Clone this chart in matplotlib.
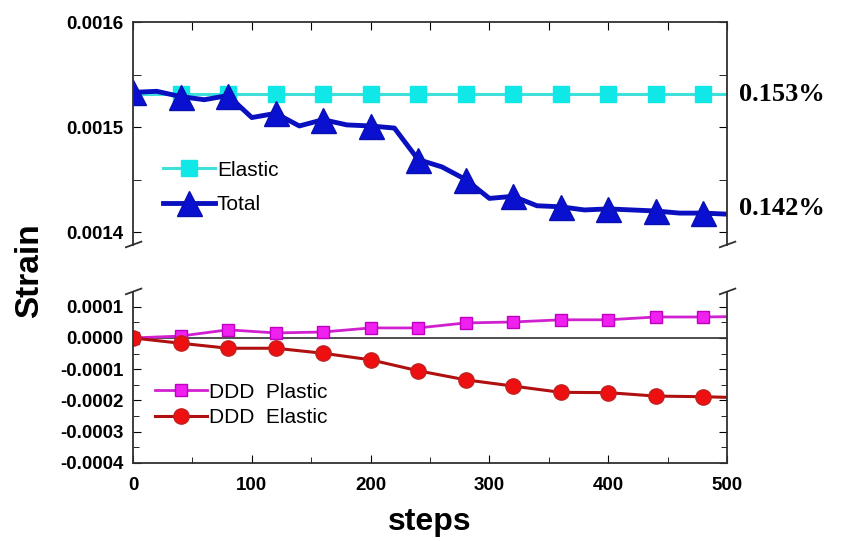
import matplotlib
matplotlib.use('Agg')
import matplotlib.pyplot as plt
from matplotlib.ticker import MultipleLocator

plt.rcParams['font.family'] = ['Liberation Sans', 'DejaVu Sans']

# Data
steps_fine = [0, 20, 40, 60, 80, 100, 120, 140, 160, 180, 200, 220, 240,
              260, 280, 300, 320, 340, 360, 380, 400, 420, 440, 460, 480, 500]
total = [0.001533, 0.001534, 0.001529, 0.001526, 0.001530, 0.001509, 0.001513,
         0.001501, 0.001507, 0.001502, 0.001501, 0.001499, 0.001469, 0.001462,
         0.001450, 0.001432, 0.001434, 0.001425, 0.001424, 0.001421, 0.001422,
         0.001421, 0.001420, 0.001418, 0.001418, 0.001417]
elastic = [0.001531] * len(steps_fine)

steps = [0, 40, 80, 120, 160, 200, 240, 280, 320, 360, 400, 440, 480, 500]
ddd_plastic = [0.0, 0.000006, 0.000026, 0.000016, 0.000019, 0.000032, 0.000032,
               0.000048, 0.000051, 0.000058, 0.000058, 0.000067, 0.000067, 0.000068]
ddd_elastic = [0.0, -0.000017, -0.000033, -0.000033, -0.000049, -0.000070, -0.000105,
               -0.000134, -0.000154, -0.000174, -0.000175, -0.000186, -0.000188, -0.000190]
end_labels = ['0.153%', '0.142%']

fig = plt.figure(figsize=(8.49, 5.41), dpi=100)
ax1 = fig.add_axes([0.1567, 0.5471, 0.6996, 0.4122])
ax2 = fig.add_axes([0.1567, 0.1442, 0.6996, 0.3161])

fmt = plt.FuncFormatter(lambda v, p: '%.4f' % v)

# top panel
ax1.plot(steps_fine, elastic, color='#3fe0dc', lw=2.2, marker='s', ms=12,
         mfc='#10e8e8', mec='#10e8e8', markevery=(2, 2), label='Elastic')
ax1.plot(steps_fine, total, color='#0a10c0', lw=3.5, marker='^', ms=18,
         mfc='#0a10d0', mec='#0a10b0', markevery=2, label='Total')
ax1.set_xlim(0, 500)
ax1.set_ylim(0.0013876, 0.0016)
ax1.yaxis.set_major_locator(MultipleLocator(0.0001))
ax1.yaxis.set_minor_locator(MultipleLocator(0.00005))
ax1.xaxis.set_major_locator(MultipleLocator(50))
ax1.spines['bottom'].set_visible(False)
ax1.tick_params(axis='x', which='both', bottom=False, labelbottom=False, top=True, direction='in', length=6)
ax1.tick_params(axis='y', which='both', right=True, direction='in', length=6, labelsize=13.5, pad=7)
ax1.yaxis.set_major_formatter(fmt)
for lab in ax1.get_yticklabels():
    lab.set_fontweight('bold')
ax1.legend(loc='upper left', bbox_to_anchor=(0.05, 0.378), frameon=False, fontsize=15,
           handlelength=2.5, handletextpad=0.1, labelspacing=0.75,
           borderpad=0, borderaxespad=0)

ax1.text(1.02, elastic[-1], end_labels[0], transform=ax1.get_yaxis_transform(),
         family='Liberation Serif', fontweight='bold', fontsize=19, va='center')
ax1.text(1.02, total[-1] + 0.000005, end_labels[1], transform=ax1.get_yaxis_transform(),
         family='Liberation Serif', fontweight='bold', fontsize=19, va='center')

# bottom panel
ax2.axhline(0, color='#303030', lw=1.2)
ax2.plot(steps, ddd_plastic, color='#d020d0', lw=2, marker='s', ms=9,
         mfc='#f020f0', mec='#c000c0', markevery=range(13), label='DDD  Plastic')
ax2.plot(steps, ddd_elastic, color='#b01010', lw=2.2, marker='o', ms=11,
         mfc='#ee1010', mec='#c02020', markevery=range(13), label='DDD  Elastic')
ax2.set_xlim(0, 500)
ax2.set_ylim(-0.0004, 0.000147)
ax2.yaxis.set_major_locator(MultipleLocator(0.0001))
ax2.yaxis.set_minor_locator(MultipleLocator(0.00005))
ax2.xaxis.set_major_locator(MultipleLocator(100))
ax2.xaxis.set_minor_locator(MultipleLocator(50))
ax2.spines['top'].set_visible(False)
ax2.tick_params(axis='x', which='both', top=False, direction='in', labelsize=13.5, pad=10)
ax2.tick_params(axis='y', which='both', right=True, direction='in', labelsize=13.5, pad=7)
ax2.tick_params(which='major', length=6)
ax2.tick_params(which='minor', length=4)
ax2.yaxis.set_major_formatter(fmt)
for lab in ax2.get_yticklabels() + ax2.get_xticklabels():
    lab.set_fontweight('bold')
ax2.legend(loc='upper left', bbox_to_anchor=(0.037, 0.47), frameon=False, fontsize=15,
           handlelength=2.5, handletextpad=0.1, labelspacing=0.3,
           borderpad=0, borderaxespad=0)

for ax in (ax1, ax2):
    for s in ax.spines.values():
        s.set_color('#303030')
        s.set_linewidth(1.3)

# break marks
for ax, yb, dy in ((ax1, 0.0, 0.025), (ax2, 1.0, 0.033)):
    for xb in (0.0, 1.0):
        ax.plot([xb - 0.012, xb + 0.014], [yb - dy * 0.4, yb + dy * 0.6],
                transform=ax.transAxes, color='#303030', lw=1.3, clip_on=False)

fig.text(0.035, 0.5, 'Strain', rotation=90, fontsize=24, fontweight='bold', va='center', ha='center')
fig.text(0.506, 0.035, 'steps', fontsize=23, fontweight='bold', va='center', ha='center')

fig.savefig('out.png', dpi=100)
